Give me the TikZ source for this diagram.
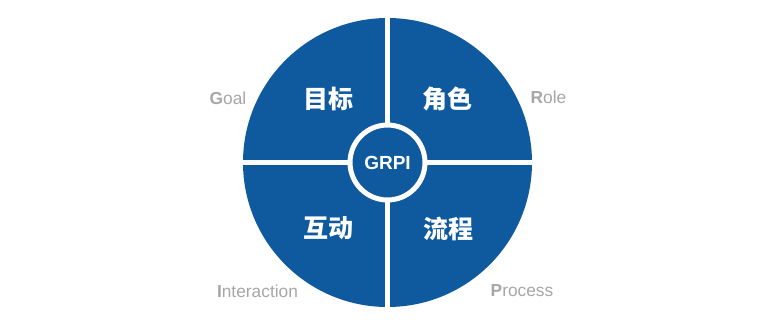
\documentclass[tikz,border=0pt]{standalone}
\usepackage{fontspec}
\setmainfont{Liberation Sans}
\newfontfamily\cjk{Noto Sans CJK SC}
\usetikzlibrary{positioning}
\definecolor{grpiblue}{HTML}{0F5A9E}
\definecolor{labelgray}{HTML}{A6A6A6}
\tikzset{disc/.style={circle,fill=grpiblue,minimum size=216.75pt,inner sep=0pt},core/.style={circle,fill=grpiblue,draw=white,line width=3.75pt,minimum size=56.25pt,inner sep=0pt,text=white,font=\fontsize{14.25}{16}\selectfont\bfseries},split/.style={draw=white,line width=3.75pt},part/.style={text=white,font=\cjk\fontsize{18.75}{22}\selectfont\bfseries,inner sep=0pt},tag/.style={text=labelgray,font=\fontsize{13}{15}\selectfont,inner sep=0pt}}

\begin{document}
\begin{tikzpicture}[x=0.75pt,y=-0.75pt]
\useasboundingbox (0,0) rectangle (774,330);
\node[disc] (wheel) at (387.5,162.5) {};
\draw[split] (wheel.north)--(wheel.south);\draw[split] (wheel.west)--(wheel.east);
\node[core] (grpi) at (wheel.center) {GRPI};
\node[part] (goal) at (328,99) {目标};
\node[part] (role) at (447.5,99) {角色};
\node[part] (inter) at (328,228.5) {互动};
\node[part] (proc) at (448,228.5) {流程};
\node[tag] (goaltag) at (228,98) {\textbf{G}oal};
\node[tag] (roletag) at (548.5,97.5) {\textbf{R}ole};
\node[tag] (intertag) at (257.5,291) {\textbf{I}nteraction};
\node[tag] (proctag) at (522,291) {\textbf{P}rocess};
\end{tikzpicture}
\end{document}
